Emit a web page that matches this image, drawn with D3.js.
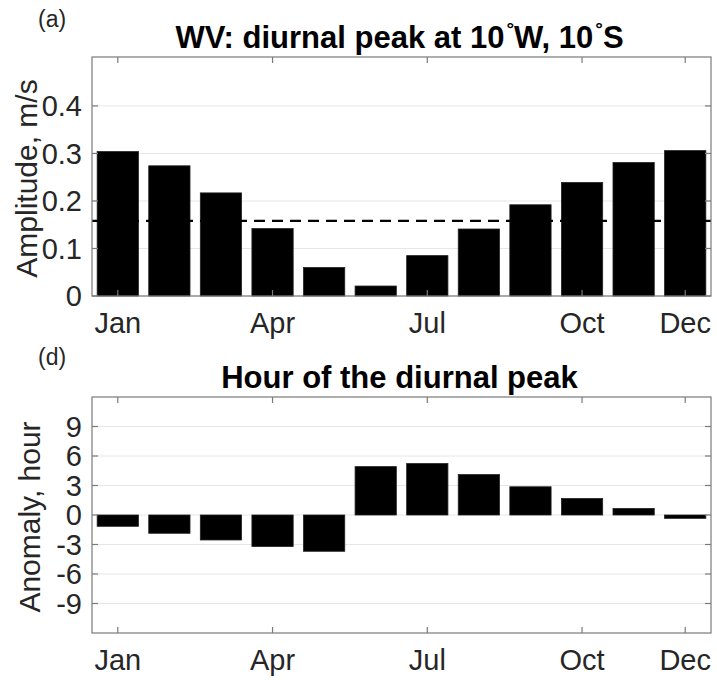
<!DOCTYPE html>
<html lang="en">
<head>
<meta charset="UTF-8">
<title>WV diurnal peak</title>
<script src="https://d3js.org/d3.v7.min.js"></script>
<style>
  body { margin: 0; background: #fff; }
  svg text { font-family: "Liberation Sans", Arial, Helvetica, sans-serif; fill: #262626; }
  .tick-label { font-size: 29px; }
  .ylab { font-size: 30px; }
  .title { font-size: 31px; font-weight: bold; fill: #000; }
  .panel-tag { font-size: 23px; }
</style>
</head>
<body>
<svg id="chart" width="717" height="680"></svg>
<script>
// data
const months = ["Jan", "Feb", "Mar", "Apr", "May", "Jun", "Jul", "Aug", "Sep", "Oct", "Nov", "Dec"];
const shownMonths = ["Jan", "Apr", "Jul", "Oct", "Dec"];
const amplitude = [0.304, 0.274, 0.217, 0.142, 0.060, 0.021, 0.085, 0.141, 0.192, 0.239, 0.281, 0.306];
const amplitudeRef = 0.158;
const amplitudeTicks = [0, 0.1, 0.2, 0.3, 0.4];
const anomaly = [-1.15, -1.86, -2.54, -3.21, -3.69, 4.92, 5.23, 4.11, 2.87, 1.68, 0.67, -0.34];
const anomalyTicks = [-9, -6, -3, 0, 3, 6, 9];

const svg = d3.select("#chart");
const left = 92, right = 711;
const tickLen = 6;

const x = d3.scaleLinear().domain([0.5, 12.5]).range([left, right]);
const monthIdx = m => months.indexOf(m) + 1;

function panel(opts) {
    const y = d3.scaleLinear().domain(opts.domain).range([opts.bottom, opts.top]);
    const g = svg.append("g");

    // grid
    g.selectAll(".grid").data(opts.ticks).join("line")
        .attr("x1", left).attr("x2", right)
        .attr("y1", d => y(d)).attr("y2", d => y(d))
        .attr("stroke", "#e6e6e6").attr("stroke-width", 1);

    // bars
    const bw = x(1.8) - x(1);
    g.selectAll(".bar").data(opts.values).join("rect")
        .attr("x", (d, i) => x(i + 1) - bw / 2)
        .attr("width", bw)
        .attr("y", d => y(Math.max(0, d)))
        .attr("height", d => Math.abs(y(d) - y(0)))
        .attr("fill", "#000")
        .attr("stroke", "#222").attr("stroke-width", 0.8);

    if (opts.refLine !== undefined) {
        g.append("line")
            .attr("x1", left).attr("x2", right)
            .attr("y1", y(opts.refLine)).attr("y2", y(opts.refLine))
            .attr("stroke", "#000").attr("stroke-width", 2.2)
            .attr("stroke-dasharray", "11,7");
    }

    // box
    g.append("rect")
        .attr("x", left).attr("y", opts.top)
        .attr("width", right - left).attr("height", opts.bottom - opts.top)
        .attr("fill", "none").attr("stroke", "#7a7a7a").attr("stroke-width", 1.2);

    // inward ticks, all four sides
    const tg = g.append("g").attr("stroke", "#7a7a7a").attr("stroke-width", 1.2);
    shownMonths.forEach(m => {
        const xx = x(monthIdx(m));
        tg.append("line").attr("x1", xx).attr("x2", xx).attr("y1", opts.bottom).attr("y2", opts.bottom - tickLen);
        tg.append("line").attr("x1", xx).attr("x2", xx).attr("y1", opts.top).attr("y2", opts.top + tickLen);
    });
    opts.ticks.forEach(t => {
        tg.append("line").attr("x1", left).attr("x2", left + tickLen).attr("y1", y(t)).attr("y2", y(t));
        tg.append("line").attr("x1", right).attr("x2", right - tickLen).attr("y1", y(t)).attr("y2", y(t));
    });

    // tick labels
    g.selectAll(".xl").data(shownMonths).join("text")
        .attr("class", "tick-label")
        .attr("x", d => x(monthIdx(d)))
        .attr("y", opts.bottom + 37)
        .attr("text-anchor", "middle")
        .text(d => d);
    g.selectAll(".yl").data(opts.ticks).join("text")
        .attr("class", "tick-label")
        .attr("x", left - 10)
        .attr("y", d => y(d))
        .attr("dy", "0.35em")
        .attr("text-anchor", "end")
        .text(d => String(d));

    // y label
    const cy = (opts.top + opts.bottom) / 2 + 2;
    g.append("text").attr("class", "ylab")
        .attr("transform", `translate(${opts.ylabX},${cy}) rotate(-90)`)
        .attr("text-anchor", "middle")
        .text(opts.ylabel);

    // title
    const tt = g.append("text").attr("class", "title")
        .attr("x", (left + right) / 2 - 2).attr("y", opts.top - 9)
        .attr("text-anchor", "middle");
    opts.title(tt);

    g.append("text").attr("class", "panel-tag")
        .attr("x", 38).attr("y", opts.tagY)
        .text(opts.tag);
}

panel({
    top: 57, bottom: 296, domain: [0, 0.503],
    values: amplitude, ticks: amplitudeTicks, refLine: amplitudeRef,
    ylabel: "Amplitude, m/s", ylabX: 37, tag: "(a)", tagY: 27,
    title: t => {
        t.append("tspan").text("WV: diurnal peak at 10");
        t.append("tspan").attr("font-size", "19px").attr("dy", -13).attr("dx", 2).text("°");
        t.append("tspan").attr("dy", 13).text("W, 10");
        t.append("tspan").attr("font-size", "19px").attr("dy", -13).attr("dx", 2).text("°");
        t.append("tspan").attr("dy", 13).text("S");
    }
});

panel({
    top: 397, bottom: 633, domain: [-12, 12],
    values: anomaly, ticks: anomalyTicks,
    ylabel: "Anomaly, hour", ylabX: 40, tag: "(d)", tagY: 365,
    title: t => t.text("Hour of the diurnal peak")
});
</script>
</body>
</html>
